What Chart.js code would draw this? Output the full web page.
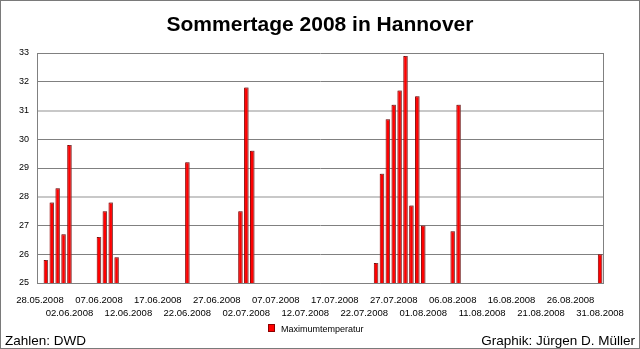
<!DOCTYPE html>
<html>
<head>
<meta charset="utf-8">
<script src="https://cdn.jsdelivr.net/npm/chart.js@4"></script>
<style>
  html, body { margin: 0; padding: 0; background: #fff; }
  #wrap { position: relative; width: 640px; height: 349px; }
</style>
</head>
<body>
<div id="wrap"><canvas id="c" width="640" height="349"></canvas></div>
<script>
// Summer days (max. temperature >= 25 °C) in Hannover, 28.05.–31.08.2008
const chartTitle = 'Sommertage 2008 in Hannover';
const seriesName = 'Maximumtemperatur';
const sourceNote = 'Zahlen: DWD';
const authorNote = 'Graphik: Jürgen D. Müller';

const firstDay = '2008-05-28';
const lastDay = '2008-08-31';

// days with a maximum temperature of at least 25 °C
const hotDays = [
  '29.05.2008', '30.05.2008', '31.05.2008', '01.06.2008', '02.06.2008',
  '07.06.2008', '08.06.2008', '09.06.2008', '10.06.2008',
  '22.06.2008',
  '01.07.2008', '02.07.2008', '03.07.2008',
  '24.07.2008', '25.07.2008', '26.07.2008', '27.07.2008', '28.07.2008',
  '29.07.2008', '30.07.2008', '31.07.2008', '01.08.2008',
  '06.08.2008', '07.08.2008',
  '31.08.2008'
];
const maxTemps = [
  25.8, 27.8, 28.3, 26.7, 29.8,
  26.6, 27.5, 27.8, 25.9,
  29.2,
  27.5, 31.8, 29.6,
  25.7, 28.8, 30.7, 31.2, 31.7,
  32.9, 27.7, 31.5, 27.0,
  26.8, 31.2,
  26.0
];

// labelled days on the time axis (every fifth day, two alternating rows)
const tickDates = [
  '28.05.2008', '02.06.2008', '07.06.2008', '12.06.2008', '17.06.2008',
  '22.06.2008', '27.06.2008', '02.07.2008', '07.07.2008', '12.07.2008',
  '17.07.2008', '22.07.2008', '27.07.2008', '01.08.2008', '06.08.2008',
  '11.08.2008', '16.08.2008', '21.08.2008', '26.08.2008', '31.08.2008'
];

const yMin = 25, yMax = 33;

// every calendar day of the period as a category
function pad(n) { return String(n).padStart(2, '0'); }
const days = [];
for (let d = new Date(firstDay + 'T12:00:00Z'); d <= new Date(lastDay + 'T12:00:00Z'); d.setUTCDate(d.getUTCDate() + 1)) {
  days.push(pad(d.getUTCDate()) + '.' + pad(d.getUTCMonth() + 1) + '.' + d.getUTCFullYear());
}
const tempByDay = days.map(day => {
  const i = hotDays.indexOf(day);
  return i >= 0 ? maxTemps[i] : null;
});

const FONT = "'Liberation Sans', Arial, sans-serif";

const decorations = {
  id: 'decorations',
  beforeDatasetsDraw(chart) {
    const ctx = chart.ctx;
    ctx.save();
    ctx.shadowColor = 'rgba(120,120,120,0.55)';
    ctx.shadowOffsetX = 1;
    ctx.shadowOffsetY = -1;
    ctx.shadowBlur = 0;
  },
  afterDatasetsDraw(chart) {
    chart.ctx.restore();
  },
  afterDraw(chart) {
    const { ctx, chartArea: a, width, height } = chart;
    ctx.save();
    // right border of the plot area
    ctx.strokeStyle = '#808080';
    ctx.lineWidth = 1;
    ctx.beginPath();
    ctx.moveTo(Math.round(a.right) + 0.5, a.top);
    ctx.lineTo(Math.round(a.right) + 0.5, a.bottom);
    ctx.stroke();
    // outer frame
    ctx.strokeStyle = '#7a7a7a';
    ctx.strokeRect(0.5, 0.5, width - 1, height - 1);

    // title
    ctx.fillStyle = '#000';
    ctx.textAlign = 'center';
    ctx.textBaseline = 'alphabetic';
    ctx.font = 'bold 21px ' + FONT;
    ctx.fillText(chartTitle, 320, 31);

    // legend
    const ds = chart.data.datasets[0];
    ctx.fillStyle = ds.backgroundColor;
    ctx.fillRect(268, 324, 7, 8);
    ctx.strokeStyle = ds.borderColor;
    ctx.strokeRect(268.5, 324.5, 6, 7);
    ctx.fillStyle = '#000';
    ctx.textAlign = 'left';
    ctx.font = '9px ' + FONT;
    ctx.fillText(ds.label, 281, 332);

    // footer notes
    ctx.font = '13.5px ' + FONT;
    ctx.fillText(sourceNote, 5, 345);
    ctx.textAlign = 'right';
    ctx.fillText(authorNote, 635, 345);
    ctx.restore();
  }
};

new Chart(document.getElementById('c'), {
  type: 'bar',
  data: {
    labels: days,
    datasets: [{
      label: seriesName,
      data: tempByDay,
      backgroundColor: '#ff0000',
      borderColor: '#8b0000',
      borderWidth: 1,
      borderSkipped: 'bottom',
      barPercentage: 0.76,
      categoryPercentage: 1.0
    }]
  },
  options: {
    responsive: false,
    animation: false,
    events: [],
    layout: { padding: { left: 0, right: 37, top: 53, bottom: 0 } },
    plugins: {
      legend: { display: false },
      title: { display: false },
      tooltip: { enabled: false }
    },
    scales: {
      x: {
        offset: true,
        grid: { display: false, drawTicks: false },
        border: { display: true, color: '#808080', width: 1 },
        afterFit(scale) { scale.height = 66; },
        ticks: {
          autoSkip: false,
          maxRotation: 0,
          minRotation: 0,
          padding: 11,
          color: '#000',
          font: { family: FONT, size: 9.5, lineHeight: 1.35 },
          callback(value) {
            const day = days[value];
            const k = tickDates.indexOf(day);
            if (k < 0) return null;
            return k % 2 === 0 ? [day] : ['', day];
          }
        }
      },
      y: {
        min: yMin,
        max: yMax,
        afterFit(scale) { scale.width = 37; },
        border: { display: true, color: '#808080', width: 1 },
        grid: {
          drawTicks: false,
          color: ctx => (ctx.tick && (ctx.tick.value === 28 || ctx.tick.value === 31)) ? '#c8c8c8' : '#808080',
          lineWidth: ctx => (ctx.tick && (ctx.tick.value === 28 || ctx.tick.value === 31)) ? 2 : 1
        },
        ticks: {
          stepSize: 1,
          padding: 8,
          color: '#000',
          font: { family: FONT, size: 9 }
        }
      }
    }
  },
  plugins: [decorations]
});
</script>
</body>
</html>
